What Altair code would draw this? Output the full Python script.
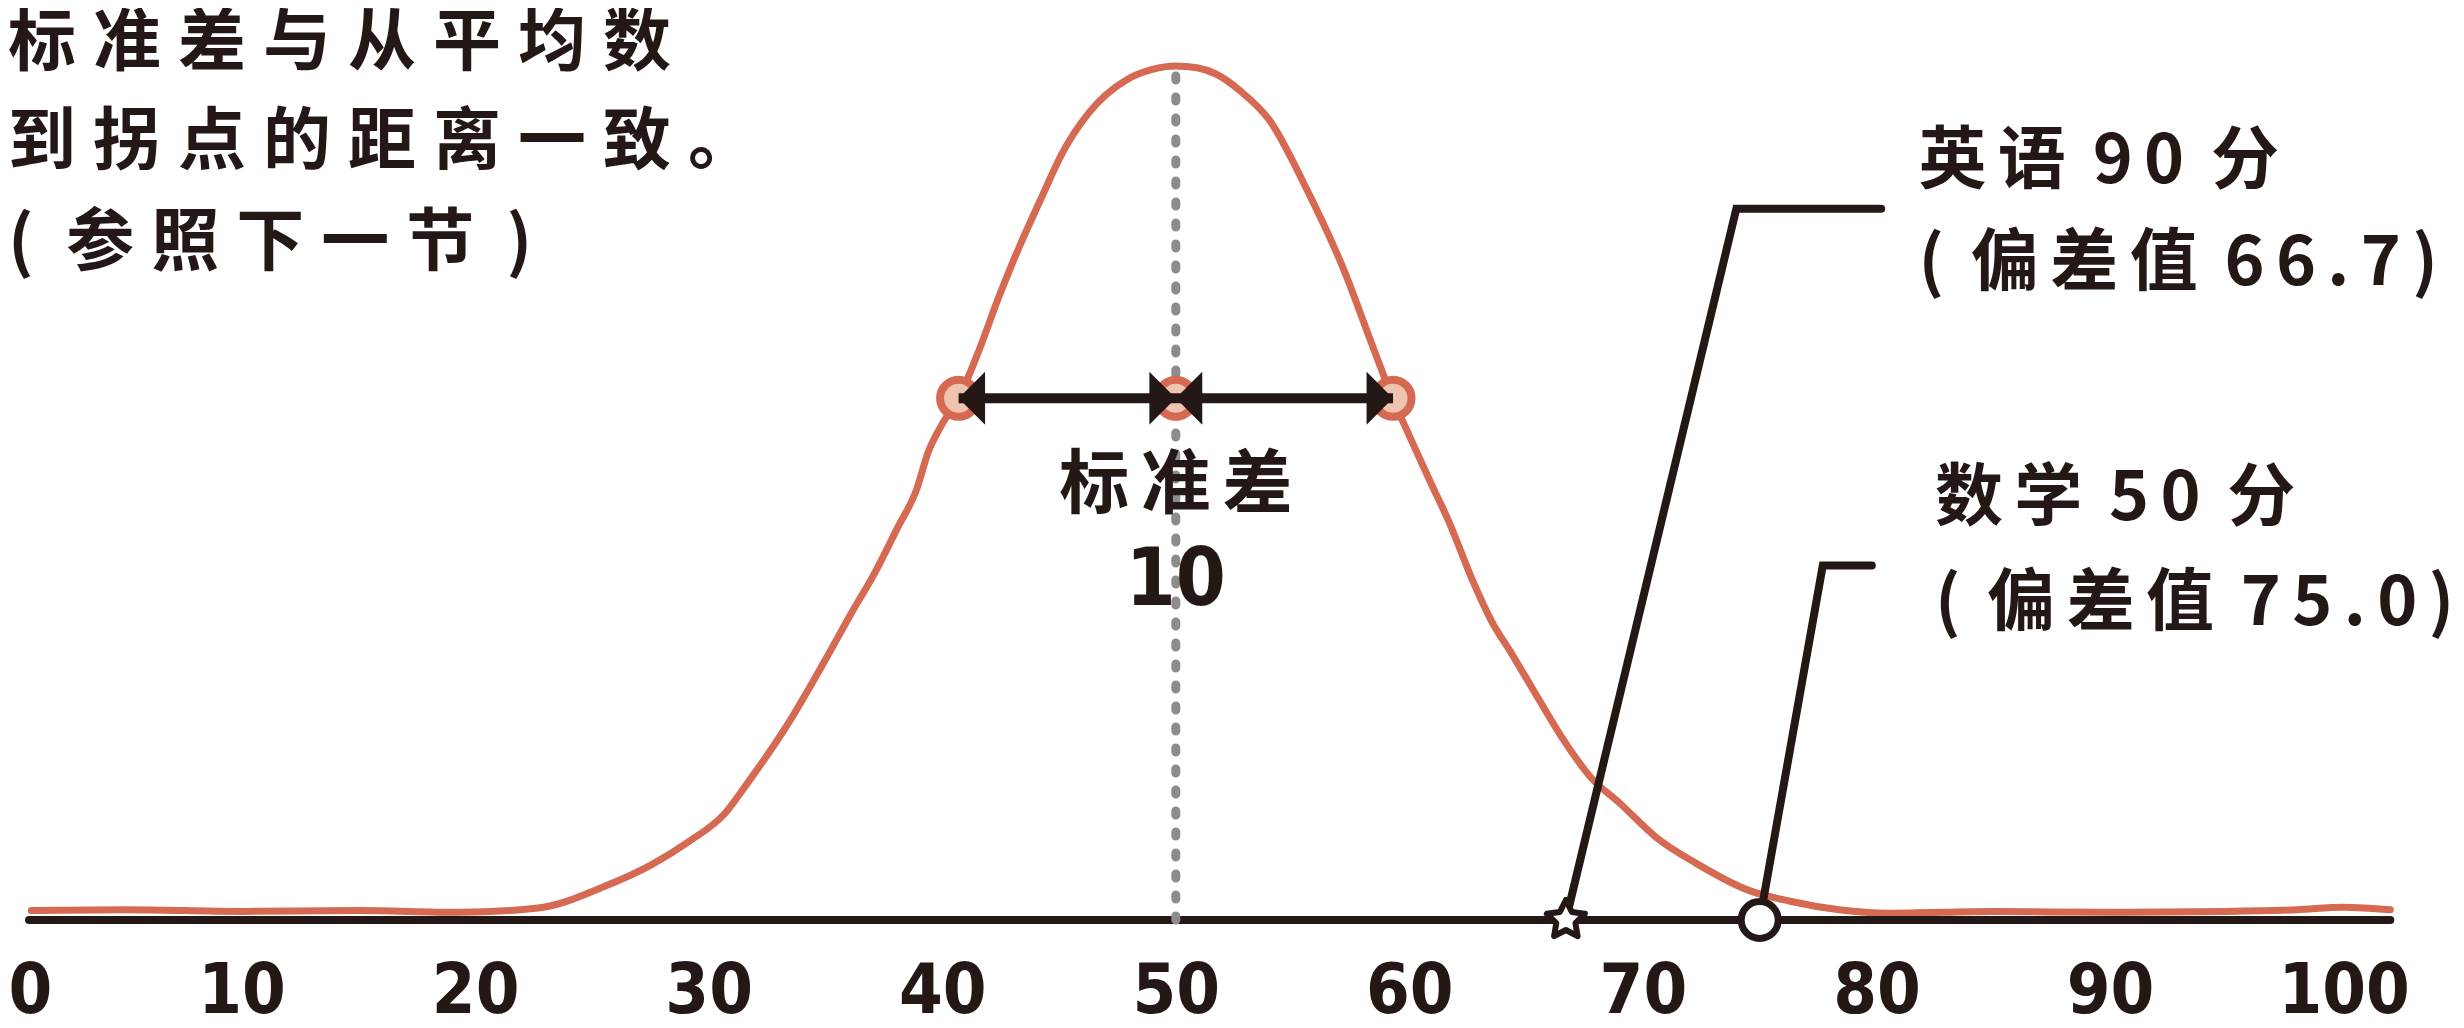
import altair as alt
import pandas as pd

# ---------------- data ----------------
# bell curve (x = score, y = relative height; 0 = baseline, 100 = peak)
curve_x = [1.0, 5.0, 10.0, 15.0, 19.3, 22.7, 25.6, 27.5, 29.1, 30.7, 31.6, 33.4, 34.9, 36.1, 37.1,
           38.1, 38.9, 39.4, 40.0, 40.7, 41.6, 42.4, 43.0, 44.3, 45.1, 46.3, 47.9, 49.0, 50.0, 50.9,
           51.7, 52.8, 54.0, 55.6, 57.2, 58.4, 59.3, 60.0, 60.9, 61.7, 62.7, 63.5,
           64.4, 65.4, 66.6, 67.8, 69.0, 70.6, 72.3, 74.5, 76.3, 78.4, 80.5, 85.0, 90.0, 95.0, 98.0,
           100.0, 102.0]
curve_y = [1.1, 1.2, 1.0, 1.1, 0.9, 1.4, 4.0, 6.4, 9.1, 12.5, 15.8, 23.0, 30.0, 35.9, 40.6,
           46.0, 50.4, 54.8, 58.1, 61.1, 66.9, 72.8, 76.9, 84.9, 89.6, 94.6, 98.4, 99.6, 100.0, 99.8,
           99.1, 97.0, 93.7, 85.6, 76.1, 67.4, 61.0, 56.7, 51.3, 46.6, 39.8, 35.1,
           31.1, 26.5, 21.1, 16.6, 13.7, 9.6, 6.6, 3.5, 2.2, 1.2, 0.8, 1.0, 0.9, 1.0, 1.2,
           1.5, 1.2]

baseline_x = [0.9, 102.0]
mean_x = 50.0
mean_top = 99.0
sigma_x = [40.7, 50.0, 59.3]          # inflection points marked on the curve
sigma_y = 61.1
arrow_left_x = [40.7, 50.0]           # heads pointing left
arrow_right_x = [50.0, 59.3]          # heads pointing right

english_score = 66.7                  # 偏差值 of English 90
math_score = 75.0                     # 偏差值 of Math 50
english_callout_x = [66.7, 74.0, 80.2]
english_callout_y = [0.0, 83.3, 83.3]
math_callout_x = [75.0, 77.7, 79.8]
math_callout_y = [0.0, 41.5, 41.5]

tick_values = [0, 10, 20, 30, 40, 50, 60, 70, 80, 90, 100]

note_lines = ["标准差与从平均数", "到拐点的距离一致。", "( 参照下一节 )"]
note_y = [102.5, 90.9, 79.1]
sd_label = ["标准差", "10"]
sd_label_y = [50.7, 39.7]
english_text = ["英语 90 分", "( 偏差值 66.7)"]
english_text_y = [88.6, 76.7]
math_text = ["数学 50 分", "( 偏差值 75.0)"]
math_text_y = [49.2, 36.9]
english_text_x = 81.8
math_text_x = 82.5
note_x = 0.0

# ---------------- styles ----------------
BLACK = "#231815"
ORANGE = "#D66952"
PEACH = "#EEC4B0"
GRAY = "#8C8C8C"
CJK = "Noto Sans CJK SC"
NUM = "Liberation Sans Narrow, DejaVu Sans Condensed, Noto Sans"
STAR = ("M0,-1L0.3,-0.4L0.951,-0.309L0.48,0.16L0.588,0.809L0,0.5"
        "L-0.588,0.809L-0.48,0.16L-0.951,-0.309L-0.3,-0.4Z")
TRI_LEFT = "M0,0L1,-1L1,1Z"
TRI_RIGHT = "M0,0L-1,-1L-1,1Z"


def track(s, sp="\u2006"):
    out = []
    for i, c in enumerate(s):
        out.append(c)
        if c != " " and i < len(s) - 1:
            out.append(sp)
    return "".join(out)


xs = alt.Scale(domain=[0, 102.5], nice=False, zero=False)
ys = alt.Scale(domain=[0, 106.8], nice=False, zero=False)
x_axis = alt.Axis(values=tick_values, format="d", grid=False, domain=False, ticks=False,
                  tickSize=0, labelFont=NUM, labelFontSize=70, labelFontWeight="bold",
                  labelColor=BLACK, labelPadding=71, labelBaseline="middle", labelFlush=1,
                  labelOverlap=False, title=None)
X = alt.X("x:Q", scale=xs, axis=x_axis)
Y = alt.Y("y:Q", scale=ys, axis=None)

curve_df = pd.DataFrame({"x": curve_x, "y": curve_y})
curve = alt.Chart(curve_df).mark_line(color=ORANGE, strokeWidth=7, interpolate="monotone",
                                      strokeCap="round", strokeJoin="round").encode(x=X, y=Y)

base_df = pd.DataFrame({"x": [baseline_x[0]], "x2": [baseline_x[1]], "y": [0.0]})
baseline = alt.Chart(base_df).mark_rule(color=BLACK, strokeWidth=8, strokeCap="round").encode(
    x=X, x2="x2:Q", y=Y)

mean_df = pd.DataFrame({"x": [mean_x], "y": [0.0], "y2": [mean_top]})
mean_rule = alt.Chart(mean_df).mark_rule(color=GRAY, strokeWidth=9, strokeDash=[4, 17],
                                         strokeCap="round").encode(x=X, y=Y, y2="y2:Q")

sig_df = pd.DataFrame({"x": sigma_x, "y": [sigma_y] * len(sigma_x)})
sig_pts = alt.Chart(sig_df).mark_point(shape="circle", filled=True, fill=PEACH, stroke=ORANGE,
                                       strokeWidth=8, size=1369, opacity=1, fillOpacity=1,
                                       strokeOpacity=1).encode(x=X, y=Y)

arrow_df = pd.DataFrame({"x": [sigma_x[0]], "x2": [sigma_x[-1]], "y": [sigma_y]})
arrow_line = alt.Chart(arrow_df).mark_rule(color=BLACK, strokeWidth=10).encode(x=X, x2="x2:Q", y=Y)

al_df = pd.DataFrame({"x": arrow_left_x, "y": [sigma_y] * len(arrow_left_x)})
ar_df = pd.DataFrame({"x": arrow_right_x, "y": [sigma_y] * len(arrow_right_x)})
heads_l = alt.Chart(al_df).mark_point(shape=TRI_LEFT, filled=True, size=2800, color=BLACK,
                                      opacity=1, strokeWidth=0).encode(x=X, y=Y)
heads_r = alt.Chart(ar_df).mark_point(shape=TRI_RIGHT, filled=True, size=2800, color=BLACK,
                                      opacity=1, strokeWidth=0).encode(x=X, y=Y)

call_df = pd.DataFrame({
    "x": english_callout_x + math_callout_x,
    "y": english_callout_y + math_callout_y,
    "g": ["en"] * 3 + ["ma"] * 3,
    "i": [0, 1, 2, 0, 1, 2],
})
callouts = alt.Chart(call_df).mark_line(color=BLACK, strokeWidth=8, strokeCap="round",
                                        strokeJoin="miter").encode(
    x=X, y=Y, detail="g:N", order="i:Q")

star_df = pd.DataFrame({"x": [english_score], "y": [0.0]})
star = alt.Chart(star_df).mark_point(shape=STAR, filled=True, fill="white", stroke=BLACK,
                                     strokeWidth=6, size=1600, opacity=1, fillOpacity=1,
                                     strokeOpacity=1, strokeJoin="round").encode(x=X, y=Y)
circ_df = pd.DataFrame({"x": [math_score], "y": [0.0]})
circ = alt.Chart(circ_df).mark_point(shape="circle", filled=True, fill="white", stroke=BLACK,
                                     strokeWidth=7, size=1369, opacity=1, fillOpacity=1,
                                     strokeOpacity=1).encode(x=X, y=Y)


def text_layer(lines, xpos, ypos, align, font, size):
    df = pd.DataFrame({"t": lines, "x": xpos, "y": ypos})
    return alt.Chart(df).mark_text(align=align, baseline="middle", font=font, fontSize=size,
                                   fontWeight="bold", color=BLACK).encode(x=X, y=Y, text="t:N")


note = text_layer([track(s, "\u2005") for s in note_lines], [note_x] * 3, note_y, "left", CJK, 68)
sd1 = text_layer([track(sd_label[0])], [mean_x], [sd_label_y[0]], "center", CJK, 70)
sd2 = text_layer([sd_label[1]], [mean_x], [sd_label_y[1]], "center", NUM, 80)
en_t = text_layer([track(s) for s in english_text], [english_text_x] * 2, english_text_y,
                  "left", CJK, 68)
ma_t = text_layer([track(s) for s in math_text], [math_text_x] * 2, math_text_y,
                  "left", CJK, 68)

chart = alt.layer(
    curve, baseline, mean_rule, sig_pts, arrow_line, heads_l, heads_r,
    callouts, star, circ, note, sd1, sd2, en_t, ma_t
).properties(
    width=2394, height=912,
    autosize=alt.AutoSizeParams(type="none"),
    padding={"left": 0, "top": 0, "right": 54, "bottom": 100},
).configure_view(stroke=None)

chart.save("out.html", embed_options={"renderer": "svg", "actions": False})
